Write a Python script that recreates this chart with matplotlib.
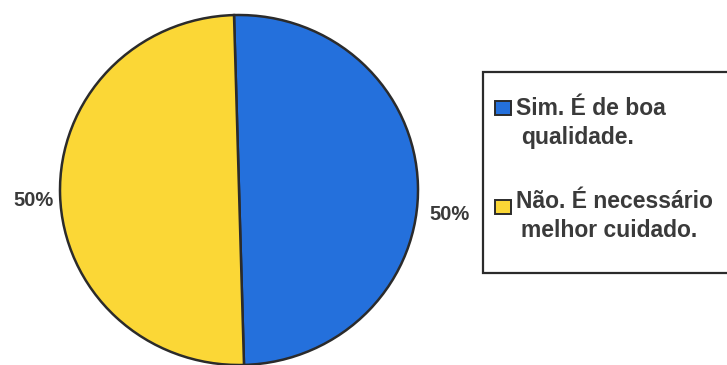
import matplotlib.pyplot as plt
from matplotlib.patches import Rectangle

# answers and their shares
labels = ['Sim. É de boa\nqualidade.', 'Não. É necessário\nmelhor cuidado.']
values = [50, 50]
colors = ['#2470dc', '#fbd736']
text_color = '#3a3a3a'
edge_color = '#2b2b2b'

plt.rcParams['font.family'] = ['Liberation Sans', 'DejaVu Sans']

W, H = 727, 365
fig = plt.figure(figsize=(W / 100, H / 100), dpi=100)
fig.patch.set_facecolor('white')


def fx(px):
    return px / W


def fy(py):
    return 1 - py / H


# pie axes sized in pixels: centre (239, 190), radii 179 x 175
cx, cy, rx, ry = 239, 190, 179, 175
ax = fig.add_axes([(cx - rx) / W, (H - cy - ry) / H, 2 * rx / W, 2 * ry / H])
wedges, _ = ax.pie(values, colors=colors, startangle=91.6, counterclock=False,
                   wedgeprops=dict(edgecolor=edge_color, linewidth=1.8))
ax.set_aspect('auto')
ax.set_xlim(-1, 1)
ax.set_ylim(-1, 1)
ax.axis('off')

# percentage labels outside each slice
pct_pos = [(1.175, -0.14), (-1.15, -0.06)]
for v, (x, y) in zip(values, pct_pos):
    ax.text(x, y, f'{v:.0f}%', ha='center', va='center', fontsize=14.5,
            fontweight='bold', color=text_color, clip_on=False)

# legend box drawn by hand, running off the right edge
fig.patches.append(Rectangle((fx(483), fy(273)), fx(760) - fx(483), fy(72) - fy(273),
                             transform=fig.transFigure, facecolor='white',
                             edgecolor=edge_color, linewidth=1.6))
square_top = [101, 200]
text_base = [115, 208]
for lab, c, st, tb in zip(labels, colors, square_top, text_base):
    fig.patches.append(Rectangle((fx(495), fy(st + 14)), fx(511) - fx(495), fy(st) - fy(st + 14),
                                 transform=fig.transFigure, facecolor=c,
                                 edgecolor=edge_color, linewidth=1.4))
    first, second = lab.split('\n')
    fig.text(fx(516), fy(tb), first, ha='left', va='baseline', fontsize=16.5,
             fontweight='bold', color=text_color)
    fig.text(fx(521), fy(tb + 29), second, ha='left', va='baseline', fontsize=16.5,
             fontweight='bold', color=text_color)

fig.savefig('out.png', dpi=100)
